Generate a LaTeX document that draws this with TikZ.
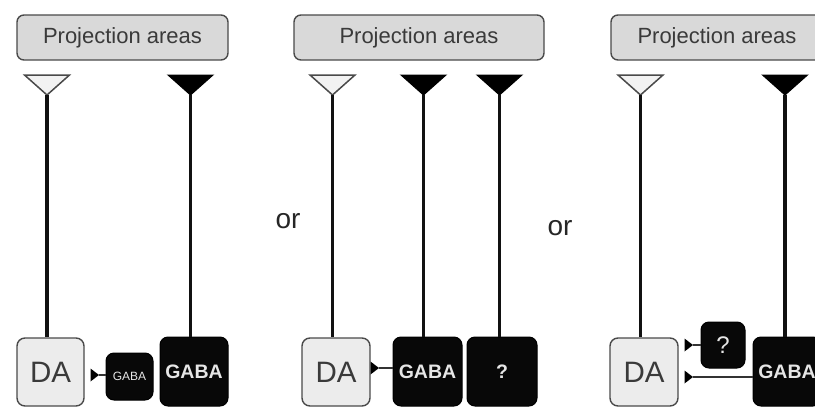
\documentclass[tikz,border=0pt]{standalone}
\usepackage{fontspec}
\setmainfont{Liberation Sans}
\definecolor{boxline}{HTML}{4A4A4A}
\definecolor{projfill}{HTML}{D9D9D9}
\definecolor{dafill}{HTML}{ECECEC}
\definecolor{txtgray}{HTML}{3A3A3A}
\definecolor{gabafill}{HTML}{080808}
\definecolor{gabatext}{HTML}{E6E6E6}
\definecolor{axoncol}{HTML}{111111}
\definecolor{trifill}{HTML}{F2F2F2}
\definecolor{linkcol}{HTML}{333333}
\begin{document}
\begin{tikzpicture}[x=1pt,y=-1pt,
  projbox/.style={draw=boxline, line width=1.4pt, rounded corners=7pt, fill=projfill, inner sep=0pt,
    minimum height=45pt, text=txtgray, font=\fontsize{22}{24}\selectfont},
  dabox/.style={draw=boxline, line width=1.4pt, rounded corners=8pt, fill=dafill, inner sep=0pt,
    minimum width=67pt, minimum height=68pt, text=txtgray, font=\fontsize{29.5}{31}\selectfont},
  darkbox/.style={draw=black, line width=1pt, rounded corners=8pt, fill=gabafill, inner sep=0pt,
    text=gabatext, font=\bfseries\fontsize{19.5}{22}\selectfont},
  axon/.style={line width=3.6pt, draw=axoncol},
  opentri/.style={draw=boxline, line width=1.5pt, fill=trifill, line join=miter},
  filltri/.style={draw=black, line width=1pt, fill=black, line join=miter},
  link/.style={line width=1.8pt, draw=linkcol},
  ortext/.style={text=black!85, font=\fontsize{28}{30}\selectfont, inner sep=0pt},
  termopen/.pic={\draw[opentri] (-22.5,-10) -- (22.5,-10) -- (0,10) -- cycle; \coordinate (-apex) at (0,10);},
  termfill/.pic={\draw[filltri] (-22.5,-10) -- (22.5,-10) -- (0,10) -- cycle; \coordinate (-apex) at (0,10);},
  synr/.pic={\fill[black] (0,-6.5) -- (8.5,0) -- (0,6.5) -- cycle; \coordinate (-tip) at (8,0);},
]
\useasboundingbox (0,0) rectangle (815,408);
\clip (0,0) rectangle (815,408);

% ---------- Panel 1 ----------
\node[projbox, minimum width=211pt] (proj1) at (122.5,37.5) {Projection areas};
\pic (t1) at (47,85) {termopen};
\pic (t2) at (190.5,85) {termfill};
\node[dabox] (da1) at (50.5,372) {DA};
\node[darkbox, minimum width=47pt, minimum height=47pt, font=\fontsize{12}{13}\selectfont] (sg1) at (129.5,376.5) {GABA};
\node[darkbox, minimum width=68pt, minimum height=69pt] (g1) at (194,371.5) {GABA};
\draw[axon] (t1-apex) -- (t1-apex |- da1.north);
\draw[axon] (t2-apex) -- (t2-apex |- g1.north);
\pic (s1) at (90.5,375) {synr};
\draw[link] (s1-tip) -- (s1-tip -| sg1.west);

\node[ortext] (or1) at (288,221) {or};

% ---------- Panel 2 ----------
\node[projbox, minimum width=250pt] (proj2) at (419,37.5) {Projection areas};
\pic (t3) at (332.5,85) {termopen};
\pic (t4) at (423.5,85) {termfill};
\pic (t5) at (499.5,85) {termfill};
\node[dabox, minimum width=68pt] (da2) at (336,372) {DA};
\node[darkbox, minimum width=69pt, minimum height=69pt] (g2) at (427.5,371.5) {GABA};
\node[darkbox, minimum width=70pt, minimum height=69pt] (q2) at (502,371.5) {?};
\draw[axon] (t3-apex) -- (t3-apex |- da2.north);
\draw[axon] (t4-apex) -- (t4-apex |- g2.north);
\draw[axon] (t5-apex) -- (t5-apex |- q2.north);
\pic (s2) at (370.5,368) {synr};
\draw[link] (s2-tip) -- (s2-tip -| g2.west);

\node[ortext] (or2) at (560,228) {or};

% ---------- Panel 3 ----------
\node[projbox, minimum width=212pt] (proj3) at (717,37.5) {Projection areas};
\pic (t6) at (640.5,85) {termopen};
\pic (t7) at (785,85) {termfill};
\node[dabox, minimum width=68pt] (da3) at (644,372) {DA};
\node[darkbox, minimum width=44pt, minimum height=46pt, font=\fontsize{24}{26}\selectfont] (q3) at (723,345) {?};
\node[darkbox, minimum width=68pt, minimum height=69pt] (g3) at (787,371.5) {GABA};
\draw[axon] (t6-apex) -- (t6-apex |- da3.north);
\draw[axon] (t7-apex) -- (t7-apex |- g3.north);
\pic (s3) at (684.5,345) {synr};
\draw[link] (s3-tip) -- (s3-tip -| q3.west);
\pic (s4) at (684.5,377) {synr};
\draw[link] (s4-tip) -- (s4-tip -| g3.west);
\end{tikzpicture}
\end{document}
